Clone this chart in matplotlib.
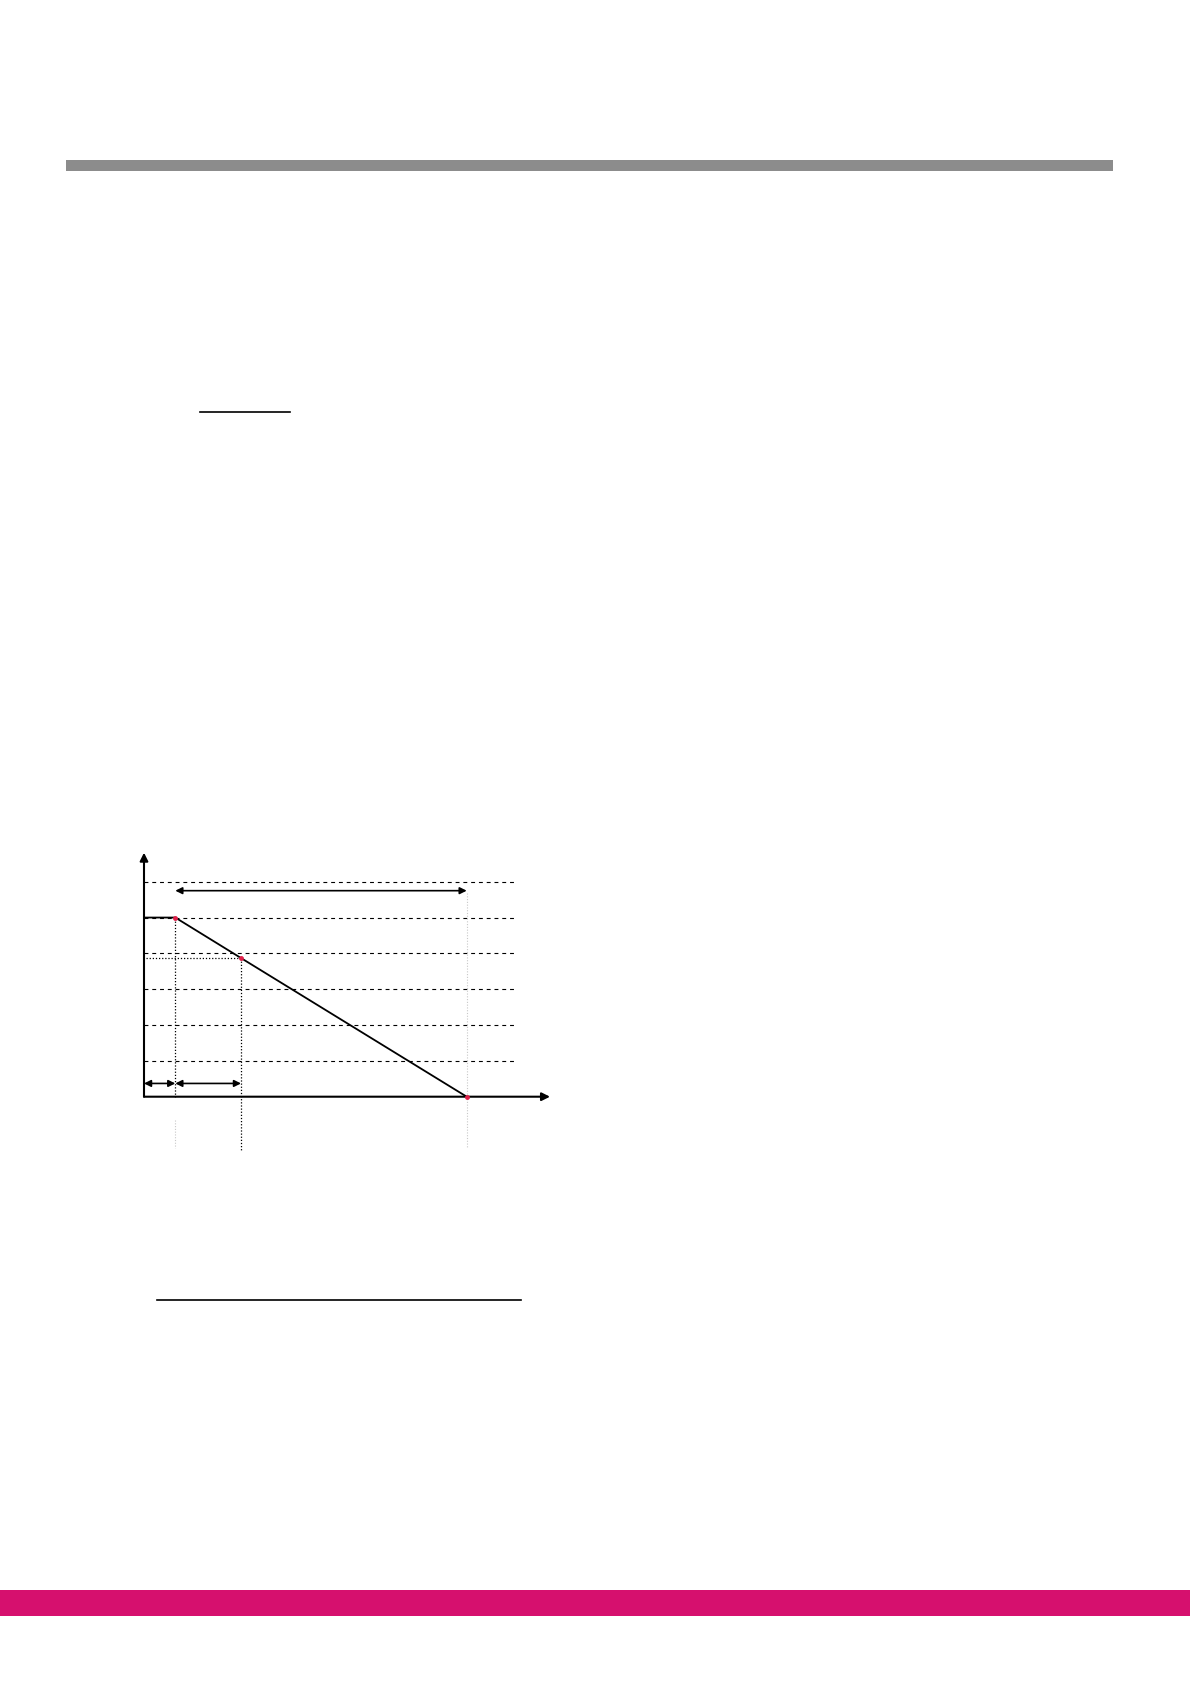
import matplotlib
matplotlib.use("Agg")
import matplotlib.pyplot as plt
from matplotlib.patches import Rectangle
from matplotlib.lines import Line2D

# page size in pixels
W, H = 1190, 1684

# chart values (x in time units, y in level units)
levels = [1, 2, 3, 4, 5, 6]
t_start, t_mid, t_end = 3.13, 9.7, 32.27
y_start, y_mid, y_end = 5.0, 3.87, 0.0
curve_x = [0.0, t_start, t_mid, t_end]
curve_y = [y_start, y_start, y_mid, y_end]
red_x = [t_start, t_mid, t_end]
red_y = [y_start, y_mid, y_end]

x_max, y_max = 40.6, 6.81
dash_end = 37.0

fig = plt.figure(figsize=(W / 100, H / 100), dpi=100)


def px_rect(x0, y0, x1, y1, color):
    fig.add_artist(Rectangle((x0 / W, 1 - y1 / H), (x1 - x0) / W, (y1 - y0) / H,
                             transform=fig.transFigure, color=color, lw=0))


def px_line(x0, x1, y, lw=1.2):
    fig.add_artist(Line2D([x0 / W, x1 / W], [1 - y / H, 1 - y / H],
                          transform=fig.transFigure, color="black", lw=lw))


# page decoration
px_rect(65.5, 160, 1113, 171, "#8c8c8c")
px_rect(0, 1590, W, 1616, "#d6106e")
px_line(200, 290, 412)
px_line(157, 521, 1300)

# chart axes: origin at pixel (144, 1096.7)
ax = fig.add_axes([144 / W, 1 - 1096.7 / H, 406 / W, 244 / H])
ax.set_xlim(0, x_max)
ax.set_ylim(0, y_max)
ax.axis("off")

arrow_kw = dict(arrowstyle="-|>", color="black", lw=1.5, mutation_scale=12,
                shrinkA=0, shrinkB=0)
ax.annotate("", xy=(x_max, 0), xytext=(0, 0), arrowprops=arrow_kw, annotation_clip=False)
ax.annotate("", xy=(0, y_max), xytext=(0, 0), arrowprops=arrow_kw, annotation_clip=False)

for lv in levels:
    ax.plot([0, dash_end], [lv, lv], color="black", lw=0.8,
            linestyle=(0, (3.5, 3.5)), clip_on=False)

ax.plot(curve_x, curve_y, color="black", lw=1.3, clip_on=False, zorder=3)

# dotted guides
dot = dict(color="black", lw=0.9, linestyle=(0, (1, 1.5)), clip_on=False)
ax.plot([t_start, t_start], [y_start, 0], **dot)
ax.plot([t_mid, t_mid], [y_mid, -1.49], **dot)
ax.plot([0.2, t_mid], [y_mid, y_mid], **dot)
light = dict(color="#c8c8c8", lw=0.8, linestyle=(0, (1, 1.5)), clip_on=False)
ax.plot([t_start, t_start], [-0.65, -1.43], **light)
ax.plot([t_end, t_end], [5.69, -1.43], **light)

ax.plot(red_x, red_y, "o", color="#e0204a", ms=2.5, clip_on=False, zorder=4)

# double-headed arrows
dbl = dict(arrowstyle="<|-|>", color="black", lw=1.2, mutation_scale=10,
           shrinkA=0, shrinkB=0)
ax.annotate("", xy=(t_end, 5.75), xytext=(t_start, 5.75), arrowprops=dbl,
            annotation_clip=False)
ax.annotate("", xy=(t_start, 0.37), xytext=(0, 0.37), arrowprops=dbl,
            annotation_clip=False)
ax.annotate("", xy=(t_mid, 0.37), xytext=(t_start, 0.37), arrowprops=dbl,
            annotation_clip=False)

fig.savefig("out.png", dpi=100, facecolor="white")
